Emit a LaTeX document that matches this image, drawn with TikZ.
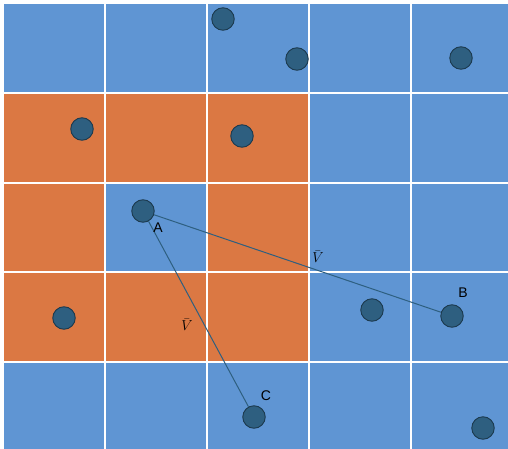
\documentclass[tikz,border=0pt]{standalone}
\usepackage{fontspec}
\setsansfont{Liberation Sans}
\usetikzlibrary{positioning}
\definecolor{cellblue}{HTML}{5F95D3}
\definecolor{cellorange}{HTML}{DB7843}
\definecolor{dotfill}{HTML}{2E5F80}
\definecolor{dotedge}{HTML}{1C3A4E}

\begin{document}
\begin{tikzpicture}[x=1pt, y=-1pt,
      dot/.style={circle, draw=dotedge, fill=dotfill, line width=0.9pt,
                  minimum size=22.5pt, inner sep=0pt},
      link/.style={draw=dotfill, line width=1pt},
      plbl/.style={font=\sffamily\fontsize{14}{16}\selectfont, inner sep=0pt},
      vlbl/.style={font=\fontsize{14}{16}\selectfont, inner sep=0pt}]

    % ---- Frame ----
    \useasboundingbox (0,0) rectangle (508,449);
    \clip (0,0) rectangle (508,449);
    \fill[white] (0,0) rectangle (508,449);

    % ---- Grid ----
    \def\gx{3}      % grid left
    \def\gy{3.5}    % grid top
    \def\cw{102}    % cell width
    \def\ch{89.5}   % cell height
    \foreach \i in {0,...,4}
      \foreach \j in {0,...,4}
        \fill[cellblue] (\gx+\i*\cw+1, \gy+\j*\ch+1) rectangle ++(\cw-2, \ch-2);
    % orange cells round A
    \foreach \i/\j in {0/1, 1/1, 2/1, 0/2, 2/2, 0/3, 1/3, 2/3}
      \fill[cellorange] (\gx+\i*\cw+1, \gy+\j*\ch+1) rectangle ++(\cw-2, \ch-2);

    % ---- Points ----
    \node[dot] (p1) at (223, 19)  {};
    \node[dot] (p2) at (297, 59)  {};
    \node[dot] (p3) at (461, 58)  {};
    \node[dot] (p4) at (82, 129)  {};
    \node[dot] (p5) at (242, 136) {};
    \node[dot] (p6) at (64, 318)  {};
    \node[dot] (p7) at (372, 310) {};
    \node[dot] (p8) at (483, 428) {};
    \node[dot] (A)  at (143, 211) {};
    \node[dot] (B)  at (452, 316) {};
    \node[dot] (C)  at (254, 417) {};

    % ---- Vectors ----
    \draw[link] (A) -- (B);
    \draw[link] (A) -- (C);

    % ---- Labels ----
    \node[plbl] (lA) at (158, 228) {A};
    \node[plbl] (lB) at (463, 293) {B};
    \node[plbl] (lC) at (266, 396) {C};
    \node[vlbl] (vAB) at (318, 257) {$\bar{V}$};
    \node[vlbl] (vAC) at (187, 325) {$\bar{V}$};

\end{tikzpicture}
\end{document}
